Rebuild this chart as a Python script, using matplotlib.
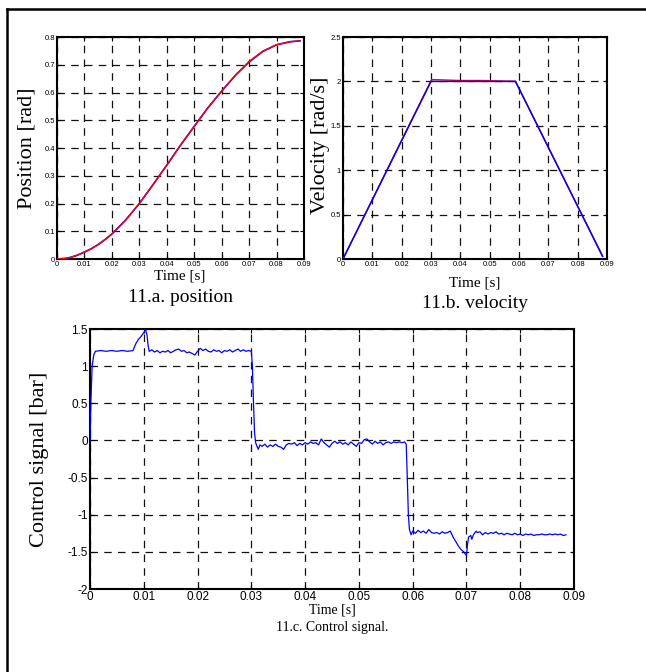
import matplotlib
matplotlib.use("Agg")
import matplotlib.pyplot as plt
from matplotlib.lines import Line2D

# ---- data ----
pos_t = [0, 0.003, 0.005, 0.0075, 0.01, 0.0125, 0.015, 0.0175, 0.02, 0.025, 0.03, 0.035,
         0.04, 0.045, 0.05, 0.055, 0.06, 0.065, 0.07, 0.075, 0.08, 0.085, 0.0885]
pos_ref = [0, 0.002, 0.006, 0.014, 0.025, 0.037, 0.052, 0.07, 0.09, 0.14, 0.2, 0.268,
           0.338, 0.41, 0.478, 0.545, 0.605, 0.662, 0.71, 0.748, 0.772, 0.783, 0.786]
pos_act = [0, 0.002, 0.006, 0.014, 0.025, 0.037, 0.052, 0.07, 0.09, 0.14, 0.2, 0.268,
           0.338, 0.41, 0.478, 0.545, 0.605, 0.662, 0.712, 0.749, 0.772, 0.783, 0.786]

vel_t_ref = [0, 0.03, 0.0588, 0.0885]
vel_ref = [0, 2.0, 2.0, 0.03]
vel_t_act = [0, 0.0302, 0.031, 0.04, 0.048, 0.0588, 0.0885]
vel_act = [0, 2.02, 2.02, 2.01, 2.01, 2.0, 0.03]

ctrl_t = [0, 0.0002, 0.0004, 0.0007, 0.001, 0.002, 0.003, 0.004, 0.005, 0.006, 0.007, 0.008,
          0.0085, 0.009, 0.0095, 0.010, 0.0103, 0.0106, 0.0108, 0.011, 0.0115, 0.012, 0.0125,
          0.013, 0.0135, 0.014, 0.0145, 0.015, 0.0155, 0.016, 0.0165, 0.017, 0.0175, 0.018,
          0.0185, 0.019, 0.0195, 0.020, 0.0205, 0.021, 0.0215, 0.022, 0.0225, 0.023, 0.0235,
          0.024, 0.0245, 0.025, 0.0255, 0.026, 0.0265, 0.027, 0.0275, 0.028, 0.0285, 0.029,
          0.0295, 0.0300, 0.0302, 0.0304, 0.0306, 0.0308, 0.031, 0.0313, 0.0316, 0.032, 0.0325,
          0.033, 0.0335, 0.034, 0.0345, 0.035, 0.0355, 0.036, 0.0365, 0.037, 0.0375, 0.038,
          0.0385, 0.039, 0.0395, 0.040, 0.0405, 0.041, 0.0415, 0.042, 0.0425, 0.043, 0.0435,
          0.044, 0.0445, 0.045, 0.0455, 0.046, 0.0465, 0.047, 0.0475, 0.048, 0.0485, 0.049,
          0.0495, 0.050, 0.0505, 0.051, 0.0515, 0.052, 0.0525, 0.053, 0.0535, 0.054, 0.0545,
          0.055, 0.0555, 0.056, 0.0565, 0.057, 0.0575, 0.058, 0.0585, 0.0588, 0.059, 0.0592,
          0.0594, 0.0597, 0.060, 0.0605, 0.061, 0.0615, 0.062, 0.0625, 0.063, 0.0635, 0.064,
          0.0645, 0.065, 0.0655, 0.066, 0.0665, 0.067, 0.0675, 0.068, 0.0685, 0.069, 0.0695,
          0.070, 0.0702, 0.0704, 0.0708, 0.071, 0.0713, 0.0718, 0.072, 0.0725, 0.073, 0.0735,
          0.074, 0.0745, 0.075, 0.0755, 0.076, 0.0765, 0.077, 0.0775, 0.078, 0.0785, 0.079,
          0.0795, 0.080, 0.0805, 0.081, 0.0815, 0.082, 0.0825, 0.083, 0.0835, 0.084, 0.0845,
          0.085, 0.0855, 0.086, 0.0865, 0.087, 0.0875, 0.088, 0.0885]
ctrl_u = [0.0, 0.6, 1.0, 1.15, 1.2, 1.21, 1.2, 1.21, 1.2, 1.21, 1.2, 1.21,
          1.3, 1.36, 1.4, 1.45, 1.5, 1.42, 1.28, 1.2, 1.22, 1.19, 1.21,
          1.18, 1.2, 1.19, 1.21, 1.18, 1.2, 1.22, 1.23, 1.2, 1.21, 1.18,
          1.19, 1.17, 1.15, 1.2, 1.24, 1.21, 1.23, 1.2, 1.19, 1.22, 1.2,
          1.21, 1.18, 1.21, 1.2, 1.22, 1.19, 1.21, 1.23, 1.2, 1.22, 1.2,
          1.21, 1.2, 1.0, 0.5, 0.1, -0.03, -0.07, -0.12, -0.06, -0.08, -0.05,
          -0.09, -0.06, -0.08, -0.05, -0.08, -0.09, -0.12, -0.06, -0.04, -0.05, -0.03,
          -0.07, -0.04, -0.06, -0.03, -0.05, -0.02, -0.04, -0.03, -0.06, 0.02, -0.03,
          -0.06, -0.09, -0.04, -0.01, -0.04, -0.02, -0.05, -0.03, -0.06, -0.02, -0.05,
          -0.08, -0.03, -0.04, 0.01, 0.02, -0.02, -0.05, -0.01, -0.04, -0.02, -0.06,
          -0.03, -0.02, -0.04, -0.02, -0.03, -0.02, -0.03, -0.02, -0.05, -0.5, -1.0,
          -1.2, -1.27, -1.22, -1.25, -1.21, -1.24, -1.22, -1.25, -1.2, -1.24, -1.25,
          -1.24, -1.26, -1.23, -1.25, -1.24, -1.22, -1.3, -1.36, -1.42, -1.47, -1.5,
          -1.55, -1.4, -1.3, -1.28, -1.33, -1.27, -1.22, -1.24, -1.23, -1.27, -1.24,
          -1.26, -1.24, -1.25, -1.23, -1.26, -1.25, -1.27, -1.25, -1.26, -1.27, -1.25,
          -1.27, -1.26, -1.28, -1.26, -1.27, -1.26, -1.28, -1.27, -1.27, -1.26, -1.27,
          -1.27, -1.26, -1.27, -1.26, -1.27, -1.26, -1.28, -1.27]

x_ticks = [0, 0.01, 0.02, 0.03, 0.04, 0.05, 0.06, 0.07, 0.08, 0.09]
x_ticklabels = ["0", "0.01", "0.02", "0.03", "0.04", "0.05", "0.06", "0.07", "0.08", "0.09"]
pos_yticks = [0, 0.1, 0.2, 0.3, 0.4, 0.5, 0.6, 0.7, 0.8]
pos_yticklabels = ["0", "0.1", "0.2", "0.3", "0.4", "0.5", "0.6", "0.7", "0.8"]
vel_yticks = [0, 0.5, 1, 1.5, 2, 2.5]
vel_yticklabels = ["0", "0.5", "1", "1.5", "2", "2.5"]
ctrl_yticks = [-2, -1.5, -1, -0.5, 0, 0.5, 1, 1.5]
ctrl_yticklabels = ["-2", "-1.5", "-1", "-0.5", "0", "0.5", "1", "1.5"]

W, H = 646, 672
fig = plt.figure(figsize=(W / 100, H / 100), dpi=100)
fig.patch.set_facecolor("white")

SERIF = ["Liberation Serif", "DejaVu Serif"]
SANS = ["Liberation Sans", "DejaVu Sans"]


def px_axes(l, t, r, b):
    return fig.add_axes([l / W, 1 - b / H, (r - l) / W, (b - t) / H])


def style(ax, xlim, ylim, yticks, yticklabels, fs):
    ax.set_xlim(*xlim)
    ax.set_ylim(*ylim)
    ax.set_xticks(x_ticks)
    ax.set_xticklabels(x_ticklabels, family=SANS, fontsize=fs)
    ax.set_yticks(yticks)
    ax.set_yticklabels(yticklabels, family=SANS, fontsize=fs)
    ax.tick_params(direction="in", length=3, width=0.8, pad=1.5, top=True, right=True)
    ax.grid(True, color="#111111", linestyle=(0, (6, 5)), linewidth=0.9)
    for s in ax.spines.values():
        s.set_linewidth(1.5)
        s.set_color("black")


# 11.a position
axa = px_axes(57, 37, 304, 259)
axa.plot(pos_t, pos_ref, color="blue", lw=1.2, zorder=3)
axa.plot(pos_t, pos_act, color="red", lw=1.0, zorder=4)
style(axa, (0, 0.09), (0, 0.8), pos_yticks, pos_yticklabels, 5.5)

# 11.b velocity
axb = px_axes(343, 37, 607, 259)
axb.plot(vel_t_act, vel_act, color="red", lw=1.0, zorder=3)
axb.plot(vel_t_ref, vel_ref, color="blue", lw=1.1, zorder=4)
style(axb, (0, 0.09), (0, 2.5), vel_yticks, vel_yticklabels, 5.5)

# 11.c control
axc = px_axes(90, 329, 574, 589)
axc.plot(ctrl_t, ctrl_u, color="blue", lw=0.9, zorder=3)
style(axc, (0, 0.09), (-2, 1.5), ctrl_yticks, ctrl_yticklabels, 8.5)


def ftext(x, y, s, size, rot=0, family=SERIF):
    fig.text(x / W, 1 - y / H, s, fontsize=size, family=family, rotation=rot,
             ha="center", va="center")


ftext(180, 276, "Time [s]", 11)
ftext(180, 297, "11.a. position", 14)
ftext(27, 148, "Position [rad]", 16, rot=90)

ftext(475, 283, "Time [s]", 11)
ftext(475, 303, "11.b. velocity", 14)
ftext(321, 145, "Velocity [rad/s]", 16, rot=90)

ftext(332, 610, "Time [s]", 10)
ftext(332, 628, "11.c. Control signal.", 10)
ftext(40, 459, "Control signal [bar]", 16, rot=90)

# outer frame (left and top edges)
fig.add_artist(Line2D([7 / W, 7 / W], [0, 1 - 9 / H], transform=fig.transFigure,
                      color="black", lw=1.8))
fig.add_artist(Line2D([7 / W, 1], [1 - 9 / H, 1 - 9 / H], transform=fig.transFigure,
                      color="black", lw=1.8))

fig.savefig("out.png", dpi=100)
